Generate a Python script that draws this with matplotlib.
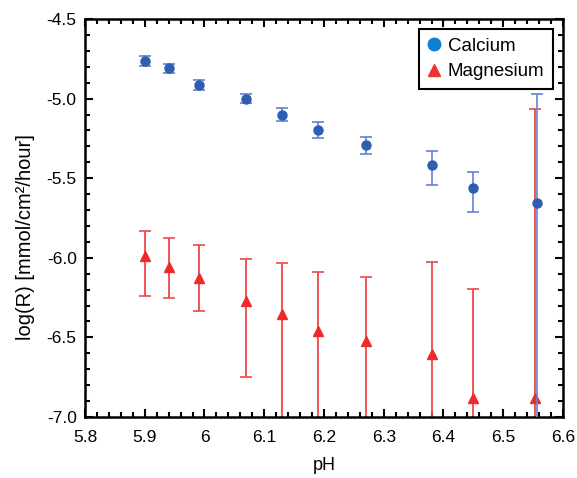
import numpy as np
import matplotlib
matplotlib.use("Agg")
import matplotlib.pyplot as plt
from matplotlib.lines import Line2D
from matplotlib.ticker import MultipleLocator

plt.rcParams['font.family'] = ['Liberation Sans', 'DejaVu Sans']
plt.rcParams['axes.unicode_minus'] = False

# calcium
ph_ca = [5.90, 5.94, 5.99, 6.07, 6.13, 6.19, 6.27, 6.38, 6.45, 6.557]
ca = [-4.764, -4.81, -4.915, -5.00, -5.10, -5.20, -5.29, -5.42, -5.56, -5.654]
ca_lo = [0.03, 0.03, 0.03, 0.03, 0.04, 0.05, 0.06, 0.12, 0.15, 2.0]
ca_hi = [0.03, 0.03, 0.03, 0.03, 0.04, 0.05, 0.05, 0.09, 0.10, 0.68]

# magnesium
ph_mg = [5.90, 5.94, 5.99, 6.07, 6.13, 6.19, 6.27, 6.38, 6.45, 6.554]
mg = [-5.99, -6.06, -6.13, -6.27, -6.355, -6.46, -6.52, -6.604, -6.883, -6.88]
mg_hi = [0.16, 0.184, 0.21, 0.26, 0.325, 0.37, 0.398, 0.578, 0.689, 1.817]
mg_lo = [0.25, 0.19, 0.204, 0.48, 2.0, 2.0, 2.0, 2.0, 2.0, 2.0]

fig = plt.figure(figsize=(5.77, 4.78), dpi=100)
ax = fig.add_axes([0.1473, 0.1276, 0.8284, 0.8327])

ax.errorbar(ph_ca, ca, yerr=[ca_lo, ca_hi], fmt='o', color='#2f5db0', ms=6.5,
            ecolor='#5f84cc', elinewidth=1.2, capsize=4, capthick=1.2, zorder=3)
ax.errorbar(ph_mg, mg, yerr=[mg_lo, mg_hi], fmt='^', color='#ee2b2b', ms=7.5,
            ecolor='#f04848', elinewidth=1.3, capsize=4, capthick=1.2, zorder=2)

ax.set_xlim(5.8, 6.6)
ax.set_ylim(-7.0, -4.5)
ax.xaxis.set_minor_locator(MultipleLocator(0.02))
ax.yaxis.set_minor_locator(MultipleLocator(0.1))
ax.set_xticks(np.arange(5.8, 6.61, 0.1))
ax.set_xticklabels(['5.8', '5.9', '6', '6.1', '6.2', '6.3', '6.4', '6.5', '6.6'])
ax.set_yticks([-7.0, -6.5, -6.0, -5.5, -5.0, -4.5])
ax.set_yticklabels(['-7.0', '-6.5', '-6.0', '-5.5', '-5.0', '-4.5'])

ax.tick_params(which='both', direction='in', top=True, right=True, width=1.5,
               labelsize=12.5, colors='black')
ax.tick_params(which='major', length=6, pad=6)
ax.tick_params(axis='x', which='major', pad=9)
ax.tick_params(which='minor', length=3.5)
for s in ax.spines.values():
    s.set_linewidth(1.8)

ax.set_xlabel('pH', fontsize=13, labelpad=9)
ax.set_ylabel('log(R) [mmol/cm\u00b2/hour]', fontsize=14.5)
ax.yaxis.set_label_coords(-0.105, 0.452)

handles = [
    Line2D([], [], marker='o', ls='none', color='#0f7fcf', ms=9, label='Calcium'),
    Line2D([], [], marker='^', ls='none', color='#ee3333', ms=9, label='Magnesium'),
]
leg = ax.legend(handles=handles, loc='upper right', fontsize=13.5, fancybox=False,
                framealpha=1, edgecolor='black', handletextpad=0.3,
                borderaxespad=0.55, handlelength=0.8, borderpad=0.45,
                labelspacing=0.45)
leg.get_frame().set_linewidth(1.5)

fig.savefig('out.png', dpi=100)
